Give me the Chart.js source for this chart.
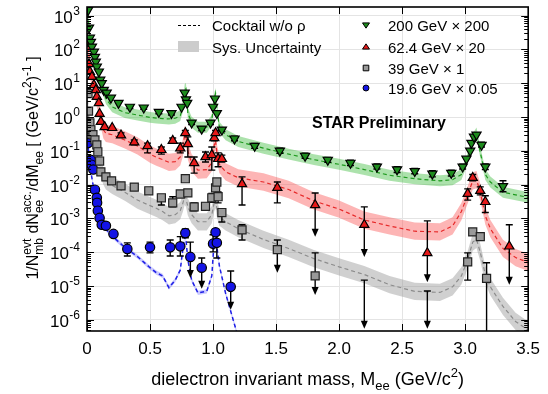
<!DOCTYPE html>
<html>
<head>
<meta charset="utf-8">
<script src="https://cdn.jsdelivr.net/npm/chart.js@4.4.1/dist/chart.umd.min.js"></script>
<style>
  html, body { margin: 0; padding: 0; background: #fff; }
  #wrap { width: 548px; height: 394px; }
</style>
</head>
<body>
<div id="wrap"><canvas id="mass" width="548" height="394"></canvas></div>
<script>
// dielectron mass spectra, already multiplied by the scale factor of each energy

// cocktail (w/o rho) on a common mass grid
const cocktailMass = [0, 0.01, 0.02, 0.03, 0.05, 0.07, 0.09, 0.11, 0.13, 0.15, 0.2, 0.3, 0.4, 0.5, 0.55, 0.6, 0.65, 0.7, 0.74, 0.76,
  0.775, 0.785, 0.8, 0.83, 0.88, 0.95, 0.99, 1.01, 1.02, 1.03, 1.05, 1.1, 1.2, 1.4, 1.6, 1.8, 2.0, 2.2, 2.4, 2.6,
  2.8, 2.9, 2.97, 3.02, 3.06, 3.09, 3.12, 3.16, 3.2, 3.3, 3.4, 3.5];
const cocktail200 = [3000, 900, 300, 160, 70, 35, 18, 10, 6, 3.5, 2.0, 1.35, 1.15, 0.98, 0.93, 0.9, 0.88, 0.92, 1.1, 2.0,
  6.5, 7, 1.3, 0.7, 0.5, 0.5, 0.8, 3.5, 5.0, 2.0, 0.5, 0.3, 0.19, 0.12, 0.08, 0.055, 0.04, 0.028, 0.019, 0.015,
  0.013, 0.014, 0.02, 0.06, 0.22, 0.34, 0.09, 0.02, 0.012, 0.006, 0.005, 0.0042];
const cocktail62 = [300, 120, 40, 20, 9, 4.5, 2.4, 0.9, 0.42, 0.33, 0.3, 0.21, 0.14, 0.08, 0.065, 0.055, 0.046, 0.048, 0.066, 0.12,
  0.3, 0.28, 0.1, 0.044, 0.027, 0.028, 0.045, 0.15, 0.2, 0.09, 0.04, 0.024, 0.016, 0.012, 0.0072, 0.0033, 0.0019, 0.0009, 0.0006, 0.00042,
  0.0004, 0.0006, 0.0016, 0.005, 0.013, 0.014, 0.006, 0.0012, 0.0005, 0.00013, 0.00007, 0.00005];
const cocktail39 = [5, 1.3, 0.6, 0.35, 0.17, 0.1, 0.055, 0.03, 0.018, 0.013, 0.0095, 0.006, 0.0035, 0.0024, 0.002, 0.0016, 0.0012, 0.0013, 0.0017, 0.0028,
  0.0045, 0.004, 0.0022, 0.0013, 0.0008, 0.0008, 0.0013, 0.003, 0.0036, 0.002, 0.0011, 0.0008, 0.0005, 0.00024, 0.00013, 0.000065, 0.000037, 0.000022, 0.000011, 0.000007,
  0.0000065, 0.0000095, 0.00002, 0.00006, 0.0002, 0.00024, 0.0001, 0.000022, 0.0000095, 0.0000025, 0.0000009, 0.0000005];
const cocktail19 = [0.2, 0.12, 0.05, 0.025, 0.009, 0.0044, 0.0013, 0.0008, 0.0006, 0.00048, 0.0003, 0.00014, 0.000075, 0.000035, 0.000025, 0.00002, 0.000009, 0.000015, 0.00003, 0.00012,
  0.00029, 0.00024, 0.00006, 0.000015, 0.0000063, 0.000007, 0.00002, 0.00025, 0.0004, 0.00015, 0.00004, 0.000006, 0.0000003, null, null, null, null, null, null, null,
  null, null, null, null, null, null, null, null, null, null, null, null];
// relative systematic uncertainty of each cocktail (band = value x/÷ factor)
const sys200 = 1.45, sys62 = 1.8, sys39 = 1.8, sys19 = 1.15;

// 200 GeV x 200
const mass200 = [0.008, 0.016, 0.023, 0.031, 0.039, 0.055, 0.063, 0.070, 0.078, 0.094, 0.105, 0.117, 0.133, 0.156, 0.19, 0.25, 0.34, 0.45, 0.57, 0.67,
  0.75, 0.775, 0.785, 0.795, 0.83, 0.91, 0.98, 1.0, 1.015, 1.03, 1.07, 1.17, 1.33, 1.53, 1.73, 1.91, 2.09, 2.30, 2.46, 2.60,
  2.74, 2.89, 2.98, 3.01, 3.04, 3.05, 3.07, 3.09, 3.13, 3.16, 3.30];
const yield200 = [1450, 440, 220, 166, 120, 85, 60, 43, 31, 22, 12.6, 10, 6.3, 5.2, 3.7, 2.6, 2.0, 1.9, 1.4, 1.3,
  2.0, 5.2, 3.3, 2.6, 0.68, 0.45, 0.68, 2.0, 3.5, 1.3, 0.42, 0.23, 0.14, 0.10, 0.071, 0.054, 0.044, 0.034, 0.028, 0.025,
  0.021, 0.022, 0.034, 0.058, 0.10, 0.17, 0.26, 0.30, 0.15, 0.034, 0.009];
const low200 = [null, null, null, null, null, null, null, null, null, null, null, null, null, null, null, null, 1.8, 1.7, 1.25, 1.15,
  null, null, null, null, 0.6, 0.4, 0.6, null, null, null, 0.37, 0.2, 0.12, 0.085, 0.06, 0.046, 0.037, 0.029, 0.023, 0.021,
  0.017, 0.018, 0.029, null, null, null, null, null, 0.13, 0.028, 0.0062];
const high200 = [null, null, null, null, null, null, null, null, null, null, null, null, null, null, null, null, 2.2, 2.1, 1.6, 1.5,
  null, null, null, null, 0.78, 0.52, 0.78, null, null, null, 0.48, 0.27, 0.165, 0.12, 0.085, 0.064, 0.053, 0.041, 0.034, 0.030,
  0.026, 0.027, 0.04, null, null, null, null, null, 0.18, 0.041, 0.013];
const limits200 = [];

// 62.4 GeV x 20
const mass62 = [0.008, 0.016, 0.023, 0.039, 0.055, 0.07, 0.078, 0.094, 0.10, 0.11, 0.14, 0.20, 0.27, 0.375, 0.48, 0.59, 0.68, 0.74, 0.78, 0.80,
  0.85, 0.94, 0.99, 1.01, 1.02, 1.04, 1.07, 1.23, 1.51, 1.81, 2.20, 2.70, 3.02, 3.06, 3.12, 3.16, 3.35];
const yield62 = [150, 37, 22, 15.5, 8.9, 6.3, 4.0, 2.6, 1.25, 0.73, 0.51, 0.48, 0.29, 0.18, 0.14, 0.107, 0.20, 0.12, 0.34, 0.16,
  0.044, 0.066, 0.076, 0.24, 0.34, 0.058, 0.058, 0.0105, 0.0081, 0.0025, 0.00065, 0.000095, 0.0054, 0.016, 0.0066, 0.0031, 0.00015];
const low62 = [null, null, null, null, null, null, null, null, null, null, null, null, 0.25, 0.15, 0.087, 0.08, 0.17, 0.087, 0.29, 0.066,
  0.022, 0.047, 0.027, 0.2, 0.29, 0.034, 0.047, 0.0025, 0.0029, 0.00029, 0.000073, 0.000013, 0.0035, 0.013, 0.005, 0.0015, 0.000011];
const high62 = [null, null, null, null, null, null, null, null, null, null, null, null, 0.34, 0.21, 0.17, 0.13, 0.24, 0.17, 0.4, 0.26,
  0.066, 0.093, 0.13, 0.29, 0.4, 0.087, 0.075, 0.017, 0.012, 0.0057, 0.0022, 0.00085, 0.0075, 0.02, 0.0086, 0.0047, 0.00065];
const limits62 = [1.81, 2.20, 2.70, 3.35];

// 39 GeV x 1 (1e-8 = central value below the axis)
const mass39 = [0.008, 0.012, 0.023, 0.031, 0.047, 0.063, 0.078, 0.086, 0.10, 0.11, 0.15, 0.195, 0.27, 0.375, 0.49, 0.59, 0.68, 0.74, 0.78, 0.80,
  0.85, 0.94, 0.99, 1.02, 1.03, 1.04, 1.07, 1.23, 1.51, 1.81, 2.20, 2.70, 3.02, 3.06, 3.12, 3.17];
const yield39 = [4.9, 1.5, 0.67, 0.42, 0.30, 0.21, 0.15, 0.094, 0.05, 0.024, 0.017, 0.013, 0.0092, 0.0085, 0.0066, 0.0041, 0.0029, 0.0053, 0.015, 0.0057,
  0.0022, 0.0023, 0.0041, 0.0081, 0.012, 0.0044, 0.0015, 0.00046, 0.00012, 0.00002, 1e-8, 1e-8, 0.000052, 0.0004, 0.00029, 0.000017];
const low39 = [null, null, null, null, null, null, null, null, null, null, null, null, null, null, null, 0.0025, 0.0022, 0.0045, 0.013, 0.0048,
  0.0017, 0.0018, 0.003, 0.007, 0.0105, 0.0029, 0.00079, 0.00023, 0.000025, 0.0000055, 0.00000055, 0.00000055, 0.000015, 0.00035, 0.00025, 1e-8];
const high39 = [null, null, null, null, null, null, null, null, null, null, null, null, null, null, null, 0.005, 0.0044, 0.0062, 0.017, 0.0067,
  0.0029, 0.0029, 0.0055, 0.0094, 0.014, 0.0061, 0.0018, 0.00065, 0.00023, 0.000096, 0.000015, 0.0000072, 0.000096, 0.00046, 0.00033, 0.000049];
const limits39 = [1.51, 1.81, 2.20, 2.70];

// 19.6 GeV x 0.05
const mass19 = [0.008, 0.03, 0.035, 0.05, 0.063, 0.078, 0.08, 0.086, 0.10, 0.117, 0.15, 0.21, 0.32, 0.50, 0.66, 0.74, 0.78, 0.82, 0.91, 1.00,
  1.02, 1.03, 1.14];
const yield19 = [0.17, 0.054, 0.039, 0.028, 0.0071, 0.0041, 0.0029, 0.0017, 0.00104, 0.00065, 0.00061, 0.00035, 0.000126, 0.00014, 0.00014, 0.00015, 0.00037, 0.000073, 0.000035, 0.00018,
  0.00039, 0.00019, 0.0000095];
const low19 = [null, null, null, null, null, null, null, null, null, null, null, null, 0.000078, 0.000096, 0.000078, 0.000078, 0.00027, 0.0000175, 0.0000083, 0.000103,
  null, 0.000068, 0.000002];
const high19 = [null, null, null, null, null, null, null, null, null, null, null, null, 0.00019, 0.0002, 0.00023, 0.00029, 0.00049, 0.0002, 0.000068, 0.00033,
  null, 0.00033, 0.000028];
const limits19 = [0.82, 0.91, 1.14];

const yDecades = [-6, -5, -4, -3, -2, -1, 0, 1, 2, 3];
const xTickStep = 0.5;

const FONT = 'Liberation Sans, Arial, sans-serif';

function pts(xs, ys) {
  return xs.map((x, i) => ({ x: x, y: ys[i] }));
}

function cocktailSets(values, sys, band, line, width) {
  const hi = values.map(v => v == null ? null : v * sys);
  const lo = values.map(v => v == null ? null : v / sys);
  return [
    { data: pts(cocktailMass, hi), borderWidth: 0, pointRadius: 0, fill: false, order: 10 },
    { data: pts(cocktailMass, lo), borderWidth: 0, pointRadius: 0, fill: '-1', backgroundColor: band, order: 10 },
    { data: pts(cocktailMass, values), borderColor: line, borderWidth: width, borderDash: [4, 3],
      pointRadius: 0, fill: false, order: 5 }
  ];
}

function markerSet(xs, ys, lo, hi, limits, style, rot, r, fill, edge) {
  return {
    data: pts(xs, ys), showLine: false, pointStyle: style, rotation: rot, pointRadius: r,
    backgroundColor: fill, borderColor: edge, borderWidth: 1.2, order: 0,
    errLo: lo, errHi: hi, limits: limits
  };
}

// error bars (arrow = upper limit) drawn under each marker set
const errorBars = {
  id: 'errorBars',
  beforeDatasetDraw(chart, args) {
    const ds = chart.data.datasets[args.index];
    if (!ds.errLo) return;
    const { ctx, chartArea: a, scales: { x, y } } = chart;
    ctx.save();
    ctx.beginPath();
    ctx.rect(a.left, a.top, a.right - a.left, a.bottom - a.top);
    ctx.clip();
    ctx.strokeStyle = '#000';
    ctx.fillStyle = '#000';
    ctx.lineWidth = 1.4;
    ds.data.forEach((p, i) => {
      const lo = ds.errLo[i], hi = ds.errHi[i];
      if (lo == null || hi == null) return;
      const px = x.getPixelForValue(p.x);
      const yh = y.getPixelForValue(hi), yl = y.getPixelForValue(lo);
      const arrow = ds.limits.includes(p.x);
      ctx.beginPath();
      ctx.moveTo(px, yh);
      ctx.lineTo(px, arrow ? yl - 6 : yl);
      ctx.moveTo(px - 3.5, yh);
      ctx.lineTo(px + 3.5, yh);
      if (!arrow) {
        ctx.moveTo(px - 3.5, yl);
        ctx.lineTo(px + 3.5, yl);
      }
      ctx.stroke();
      if (arrow) {
        ctx.beginPath();
        ctx.moveTo(px - 3.5, yl - 8);
        ctx.lineTo(px + 3.5, yl - 8);
        ctx.lineTo(px, yl);
        ctx.closePath();
        ctx.fill();
      }
    });
    ctx.restore();
  }
};

function measureParts(ctx, parts, big, small) {
  let w = 0;
  parts.forEach(p => {
    if (p.t !== undefined) { ctx.font = big; w += ctx.measureText(p.t).width; }
    else {
      ctx.font = small;
      w += Math.max(p.sub ? ctx.measureText(p.sub).width : 0, p.sup ? ctx.measureText(p.sup).width : 0);
    }
  });
  return w;
}

function drawParts(ctx, parts, x, y, big, small, size) {
  parts.forEach(p => {
    if (p.t !== undefined) {
      ctx.font = big;
      ctx.fillText(p.t, x, y);
      x += ctx.measureText(p.t).width;
    } else {
      ctx.font = small;
      let w = 0;
      if (p.sup) { ctx.fillText(p.sup, x, y - size * 0.45); w = ctx.measureText(p.sup).width; }
      if (p.sub) { ctx.fillText(p.sub, x, y + size * 0.3); w = Math.max(w, ctx.measureText(p.sub).width); }
      x += w;
    }
  });
}

function marker(ctx, style, x, y, r, fill) {
  ctx.save();
  ctx.fillStyle = fill;
  ctx.strokeStyle = '#000';
  ctx.lineWidth = 1;
  ctx.beginPath();
  if (style === 'down') {
    ctx.moveTo(x - r, y - r * 0.6); ctx.lineTo(x + r, y - r * 0.6); ctx.lineTo(x, y + r * 0.9);
  } else if (style === 'up') {
    ctx.moveTo(x - r, y + r * 0.6); ctx.lineTo(x + r, y + r * 0.6); ctx.lineTo(x, y - r * 0.9);
  } else if (style === 'rect') {
    ctx.rect(x - r * 0.8, y - r * 0.8, r * 1.6, r * 1.6);
  } else {
    ctx.arc(x, y, r * 0.85, 0, Math.PI * 2);
  }
  ctx.closePath();
  ctx.fill();
  ctx.stroke();
  ctx.restore();
}

// frame, inward ticks, power-of-ten labels, titles and legend
const decorations = {
  id: 'decorations',
  afterDraw(chart) {
    const { ctx, chartArea: a, scales: { x, y } } = chart;
    ctx.save();
    ctx.strokeStyle = '#000';
    ctx.lineWidth = 1;
    ctx.beginPath();
    // y ticks: decades and 2..9 sub-ticks on both sides
    for (let e = -7; e <= 3; e++) {
      for (let k = 1; k <= 9; k++) {
        const v = k * Math.pow(10, e);
        if (v < y.min || v > y.max) continue;
        const py = Math.round(y.getPixelForValue(v)) + 0.5;
        const len = k === 1 ? 7 : 4;
        ctx.moveTo(a.left, py); ctx.lineTo(a.left + len, py);
        ctx.moveTo(a.right, py); ctx.lineTo(a.right - len, py);
      }
    }
    for (let v = 0; v <= 3.5 + 1e-9; v += xTickStep) {
      const px = Math.round(x.getPixelForValue(v)) + 0.5;
      ctx.moveTo(px, a.bottom); ctx.lineTo(px, a.bottom - 7);
      ctx.moveTo(px, a.top); ctx.lineTo(px, a.top + 7);
    }
    ctx.stroke();
    ctx.lineWidth = 1.6;
    ctx.strokeRect(a.left, a.top, a.right - a.left, a.bottom - a.top);

    ctx.fillStyle = '#000';
    ctx.textBaseline = 'alphabetic';
    // y tick labels 10^n
    yDecades.forEach(e => {
      const py = y.getPixelForValue(Math.pow(10, e));
      const exp = String(e).replace('-', '\u2010');
      ctx.font = '12px ' + FONT;
      ctx.textAlign = 'right';
      const ew = ctx.measureText(exp).width;
      ctx.fillText(exp, 80, py - 1);
      ctx.font = '17px ' + FONT;
      ctx.fillText('10', 80 - ew - 0.5, py + 7);
    });

    ctx.textAlign = 'left';
    // x title
    const xt = [{ t: 'dielectron invariant mass, M' }, { sub: 'ee' }, { t: ' (GeV/c' }, { sup: '2' }, { t: ')' }];
    const xbig = '18px ' + FONT, xsmall = '13px ' + FONT;
    const xw = measureParts(ctx, xt, xbig, xsmall);
    drawParts(ctx, xt, (a.left + a.right) / 2 - xw / 2, 385, xbig, xsmall, 18);

    // y title
    const yt = [{ t: '1/N' }, { sub: 'mb', sup: 'evt' }, { t: ' dN' }, { sub: 'ee', sup: 'acc.' }, { t: '/dM' }, { sub: 'ee' },
      { t: ' [ (GeV/c' }, { sup: '2' }, { t: ')' }, { sup: '-1' }, { t: ' ]' }];
    const ybig = '16px ' + FONT, ysmall = '12px ' + FONT;
    const yw = measureParts(ctx, yt, ybig, ysmall);
    ctx.save();
    ctx.translate(38, 168);
    ctx.rotate(-Math.PI / 2);
    drawParts(ctx, yt, -yw / 2, 0, ybig, ysmall, 16);
    ctx.restore();

    // legend, left column
    ctx.save();
    ctx.strokeStyle = '#000';
    ctx.lineWidth = 1;
    ctx.setLineDash([3, 2]);
    ctx.beginPath();
    ctx.moveTo(178, 25.5); ctx.lineTo(200, 25.5);
    ctx.stroke();
    ctx.restore();
    ctx.fillStyle = '#cccccc';
    ctx.fillRect(178, 41, 21, 11);
    ctx.fillStyle = '#000';
    ctx.font = '15px ' + FONT;
    ctx.fillText('Cocktail w/o \u03c1', 212, 30.5);
    ctx.fillText('Sys. Uncertainty', 212, 52.5);

    // legend, right column
    const rows = [
      ['down', '#1e8c1e', '200 GeV \u00d7 200'],
      ['up', '#e61919', '62.4 GeV \u00d7 20'],
      ['rect', '#999999', '39 GeV \u00d7 1'],
      ['circle', '#1414e6', '19.6 GeV \u00d7 0.05']
    ];
    const rowY = [25, 47, 68, 88];
    rows.forEach((r, i) => {
      marker(ctx, r[0], 366, rowY[i], 3.5, r[1]);
      ctx.fillStyle = '#000';
      ctx.font = '15px ' + FONT;
      ctx.fillText(r[2], 388, rowY[i] + 5.5);
    });

    ctx.font = 'bold 16px ' + FONT;
    ctx.fillText('STAR Preliminary', 312, 128);
    ctx.restore();
  }
};

const datasets = [].concat(
  cocktailSets(cocktail200, sys200, 'rgba(70,190,70,0.45)', '#1f9a1f', 1.2),
  cocktailSets(cocktail62, sys62, 'rgba(250,90,90,0.45)', '#e62828', 1.2),
  cocktailSets(cocktail39, sys39, 'rgba(150,150,150,0.45)', '#8c8c8c', 1.2),
  cocktailSets(cocktail19, sys19, 'rgba(80,80,255,0.3)', '#1f1fe6', 1.5),
  [
    markerSet(mass200, yield200, low200, high200, limits200, 'triangle', 180, 5.3, '#1e8c1e', '#000'),
    markerSet(mass62, yield62, low62, high62, limits62, 'triangle', 0, 5.3, '#e61919', '#000'),
    markerSet(mass39, yield39, low39, high39, limits39, 'rect', 0, 5.7, '#999999', '#222'),
    markerSet(mass19, yield19, low19, high19, limits19, 'circle', 0, 4.7, '#1414e6', '#000')
  ]
);

new Chart(document.getElementById('mass'), {
  type: 'line',
  data: { datasets: datasets },
  options: {
    responsive: false,
    animation: false,
    devicePixelRatio: 1,
    layout: { padding: { left: 0, right: 13, top: 7, bottom: 0 } },
    elements: { line: { tension: 0 } },
    plugins: { legend: { display: false }, tooltip: { enabled: false } },
    scales: {
      x: {
        type: 'linear', min: 0, max: 3.5,
        ticks: { stepSize: xTickStep, color: '#000', font: { family: FONT, size: 17 }, padding: 8, maxRotation: 0, autoSkip: false },
        grid: { color: '#e4e4e4', drawTicks: false },
        border: { display: false },
        afterFit(s) { s.height = 63; }
      },
      y: {
        type: 'logarithmic', min: 4.7e-7, max: 1.8e3,
        ticks: { display: false },
        grid: { color: '#e4e4e4', drawTicks: false },
        border: { display: false },
        afterBuildTicks(s) { s.ticks = yDecades.map(e => ({ value: Math.pow(10, e) })); },
        afterFit(s) { s.width = 87; }
      }
    }
  },
  plugins: [errorBars, decorations]
});
</script>
</body>
</html>
